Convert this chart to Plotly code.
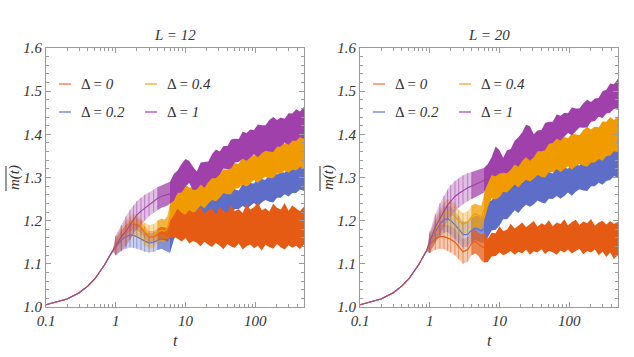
import math
import plotly.graph_objects as go

# ---------------- data ----------------
T_EARLY = [0.1, 0.2, 0.3, 0.4, 0.5, 0.6, 0.7, 0.8, 0.9]
M_EARLY = [1.005, 1.0185, 1.033, 1.049, 1.065, 1.082, 1.099, 1.116, 1.130]

T_MID = [1.0, 1.2, 1.4, 1.6, 1.8, 2.0, 2.3, 2.6, 3.0, 3.5, 4.0, 4.5, 5.0, 5.5, 6.0]
T_LATE = [6.8, 7.7, 8.8, 10, 11.3, 12.8, 14.5, 16.5, 18.7, 21.2, 24, 27.3, 31, 35, 40,
          45, 51, 58, 66, 75, 85, 96, 109, 124, 140, 159, 181, 205, 233, 264, 300,
          340, 386, 438, 500]

DELTA_LABELS = ["0", "0.2", "0.4", "1"]
PANEL_TITLES = ["12", "20"]
X_TICKS = [0.1, 1, 10, 100]
X_TICK_TEXT = ["0.1", "1", "10", "100"]
Y_TICKS = [1.0, 1.1, 1.2, 1.3, 1.4, 1.5, 1.6]
Y_TICK_TEXT = ["1.0", "1.1", "1.2", "1.3", "1.4", "1.5", "1.6"]

# ---- L = 12 ----
L12_D0_MEAN = [1.143, 1.162, 1.178, 1.188, 1.193, 1.192, 1.185, 1.173, 1.162, 1.162, 1.168, 1.172, 1.170, 1.165, 1.180]
L12_D0_LO = [1.131, 1.150, 1.165, 1.175, 1.180, 1.178, 1.171, 1.159, 1.148, 1.148, 1.154, 1.158, 1.155, 1.150, 1.160]
L12_D0_HI = [1.155, 1.175, 1.191, 1.201, 1.206, 1.206, 1.199, 1.187, 1.176, 1.176, 1.182, 1.186, 1.185, 1.182, 1.200]
L12_D0_LATE_LO = [1.163, 1.158, 1.152, 1.16, 1.147, 1.153, 1.149, 1.141, 1.151, 1.144, 1.139, 1.148, 1.142, 1.134, 1.146,
                  1.14, 1.137, 1.147, 1.133, 1.141, 1.145, 1.136, 1.142, 1.131, 1.144, 1.139, 1.135, 1.146, 1.138, 1.133,
                  1.143, 1.137, 1.142, 1.134, 1.145]
L12_D0_LATE_HI = [1.212, 1.228, 1.218, 1.214, 1.225, 1.219, 1.222, 1.231, 1.216, 1.224, 1.229, 1.214, 1.233, 1.221, 1.219,
                  1.236, 1.222, 1.227, 1.218, 1.238, 1.226, 1.231, 1.242, 1.224, 1.229, 1.221, 1.239, 1.23, 1.226, 1.241,
                  1.223, 1.235, 1.229, 1.222, 1.233]

L12_D02_MEAN = [1.140, 1.155, 1.163, 1.167, 1.166, 1.163, 1.158, 1.152, 1.148, 1.150, 1.155, 1.158, 1.156, 1.155, 1.160]
L12_D02_LO = [1.120, 1.130, 1.135, 1.138, 1.137, 1.135, 1.132, 1.128, 1.126, 1.128, 1.132, 1.135, 1.132, 1.128, 1.125]
L12_D02_HI = [1.160, 1.178, 1.190, 1.195, 1.195, 1.192, 1.185, 1.177, 1.170, 1.172, 1.178, 1.182, 1.180, 1.185, 1.190]
L12_D02_LATE_LO = [1.156, 1.174, 1.163, 1.177, 1.187, 1.177, 1.186, 1.197, 1.19, 1.201, 1.208, 1.204, 1.211, 1.221, 1.216,
                   1.215, 1.227, 1.227, 1.234, 1.228, 1.234, 1.241, 1.233, 1.242, 1.248, 1.244, 1.242, 1.253, 1.253, 1.261,
                   1.256, 1.264, 1.264, 1.272, 1.269]
L12_D02_LATE_HI = [1.231, 1.232, 1.232, 1.244, 1.236, 1.237, 1.237, 1.248, 1.245, 1.242, 1.254, 1.263, 1.256, 1.265, 1.262,
                   1.274, 1.273, 1.27, 1.285, 1.28, 1.287, 1.286, 1.298, 1.296, 1.295, 1.307, 1.314, 1.307, 1.313, 1.311,
                   1.324, 1.323, 1.334, 1.328, 1.339]

L12_D04_MEAN = [1.142, 1.163, 1.180, 1.190, 1.195, 1.195, 1.188, 1.176, 1.165, 1.166, 1.174, 1.178, 1.176, 1.182, 1.210]
L12_D04_LO = [1.120, 1.135, 1.148, 1.158, 1.163, 1.163, 1.155, 1.143, 1.135, 1.138, 1.148, 1.153, 1.150, 1.155, 1.180]
L12_D04_HI = [1.165, 1.185, 1.200, 1.210, 1.216, 1.214, 1.204, 1.195, 1.190, 1.192, 1.200, 1.205, 1.202, 1.210, 1.240]
L12_D04_LATE_LO = [1.196, 1.212, 1.199, 1.211, 1.221, 1.211, 1.224, 1.235, 1.228, 1.24, 1.248, 1.245, 1.253, 1.264, 1.261,
                   1.261, 1.274, 1.275, 1.284, 1.279, 1.286, 1.294, 1.287, 1.296, 1.302, 1.299, 1.298, 1.309, 1.309, 1.316,
                   1.311, 1.318, 1.317, 1.324, 1.321]
L12_D04_LATE_HI = [1.276, 1.281, 1.274, 1.284, 1.276, 1.279, 1.282, 1.294, 1.292, 1.291, 1.304, 1.314, 1.308, 1.319, 1.318,
                   1.332, 1.333, 1.332, 1.349, 1.345, 1.352, 1.351, 1.364, 1.362, 1.362, 1.374, 1.382, 1.376, 1.382, 1.379,
                   1.392, 1.39, 1.4, 1.393, 1.402]

L12_D1_MEAN = [1.143, 1.163, 1.176, 1.190, 1.203, 1.213, 1.222, 1.229, 1.236, 1.245, 1.252, 1.256, 1.258, 1.259, 1.262]
L12_D1_LO = [1.120, 1.130, 1.140, 1.155, 1.170, 1.180, 1.190, 1.200, 1.210, 1.218, 1.225, 1.230, 1.232, 1.235, 1.240]
L12_D1_HI = [1.165, 1.190, 1.210, 1.225, 1.235, 1.245, 1.253, 1.260, 1.265, 1.272, 1.278, 1.282, 1.285, 1.287, 1.290]
L12_D1_LATE_LO = [1.246, 1.264, 1.265, 1.279, 1.287, 1.271, 1.272, 1.284, 1.276, 1.289, 1.298, 1.298, 1.307, 1.321, 1.319,
                  1.321, 1.335, 1.336, 1.344, 1.339, 1.346, 1.354, 1.347, 1.356, 1.362, 1.36, 1.359, 1.371, 1.372, 1.381,
                  1.376, 1.385, 1.385, 1.393, 1.39]
L12_D1_LATE_HI = [1.308, 1.316, 1.332, 1.343, 1.338, 1.325, 1.314, 1.335, 1.336, 1.337, 1.354, 1.365, 1.36, 1.373, 1.373,
                  1.388, 1.39, 1.389, 1.406, 1.403, 1.411, 1.41, 1.423, 1.421, 1.421, 1.433, 1.44, 1.433, 1.439, 1.436,
                  1.449, 1.448, 1.458, 1.453, 1.464]

# ---- L = 20 ----
L20_D0_MEAN = [1.145, 1.158, 1.163, 1.163, 1.160, 1.157, 1.150, 1.140, 1.128, 1.133, 1.148, 1.152, 1.145, 1.140, 1.138]
L20_D0_LO = [1.125, 1.132, 1.135, 1.134, 1.130, 1.126, 1.120, 1.110, 1.100, 1.105, 1.120, 1.124, 1.118, 1.108, 1.103]
L20_D0_HI = [1.165, 1.183, 1.190, 1.192, 1.190, 1.187, 1.180, 1.170, 1.158, 1.162, 1.176, 1.180, 1.172, 1.168, 1.170]
L20_D0_LATE_LO = [1.104, 1.117, 1.118, 1.127, 1.12, 1.124, 1.13, 1.121, 1.128, 1.124, 1.133, 1.121, 1.129, 1.126, 1.134,
                  1.123, 1.13, 1.127, 1.121, 1.131, 1.126, 1.133, 1.124, 1.129, 1.135, 1.122, 1.13, 1.126, 1.133, 1.12,
                  1.128, 1.116, 1.126, 1.111, 1.121]
L20_D0_LATE_HI = [1.158, 1.172, 1.171, 1.187, 1.176, 1.179, 1.193, 1.182, 1.188, 1.196, 1.185, 1.192, 1.199, 1.186, 1.194,
                  1.19, 1.201, 1.187, 1.196, 1.192, 1.203, 1.189, 1.197, 1.202, 1.19, 1.198, 1.194, 1.204, 1.188, 1.196,
                  1.2, 1.191, 1.199, 1.193, 1.197]

L20_D02_MEAN = [1.147, 1.175, 1.192, 1.202, 1.205, 1.200, 1.190, 1.180, 1.168, 1.168, 1.178, 1.183, 1.180, 1.176, 1.182]
L20_D02_LO = [1.127, 1.150, 1.163, 1.172, 1.174, 1.168, 1.158, 1.148, 1.138, 1.140, 1.150, 1.155, 1.152, 1.148, 1.150]
L20_D02_HI = [1.168, 1.200, 1.220, 1.232, 1.236, 1.232, 1.222, 1.212, 1.198, 1.198, 1.206, 1.212, 1.210, 1.205, 1.215]
L20_D02_LATE_LO = [1.161, 1.177, 1.179, 1.189, 1.203, 1.203, 1.213, 1.224, 1.218, 1.229, 1.237, 1.232, 1.238, 1.247, 1.242,
                   1.24, 1.251, 1.25, 1.257, 1.251, 1.257, 1.265, 1.258, 1.267, 1.273, 1.27, 1.269, 1.28, 1.28, 1.288,
                   1.283, 1.292, 1.294, 1.303, 1.3]
L20_D02_LATE_HI = [1.246, 1.247, 1.26, 1.27, 1.268, 1.28, 1.281, 1.293, 1.291, 1.288, 1.3, 1.308, 1.3, 1.308, 1.304,
                   1.315, 1.313, 1.309, 1.323, 1.317, 1.323, 1.32, 1.332, 1.329, 1.328, 1.339, 1.346, 1.339, 1.345, 1.342,
                   1.356, 1.359, 1.372, 1.365, 1.374]

L20_D04_MEAN = [1.148, 1.180, 1.200, 1.215, 1.220, 1.218, 1.210, 1.200, 1.192, 1.197, 1.210, 1.216, 1.212, 1.208, 1.225]
L20_D04_LO = [1.125, 1.150, 1.170, 1.183, 1.188, 1.186, 1.178, 1.168, 1.162, 1.166, 1.180, 1.186, 1.182, 1.180, 1.200]
L20_D04_HI = [1.170, 1.205, 1.228, 1.243, 1.250, 1.248, 1.238, 1.226, 1.218, 1.222, 1.235, 1.240, 1.236, 1.235, 1.260]
L20_D04_LATE_LO = [1.231, 1.252, 1.249, 1.254, 1.267, 1.265, 1.274, 1.284, 1.277, 1.288, 1.295, 1.291, 1.297, 1.306, 1.301,
                   1.3, 1.312, 1.312, 1.319, 1.313, 1.319, 1.326, 1.318, 1.326, 1.331, 1.327, 1.325, 1.335, 1.335, 1.343,
                   1.339, 1.349, 1.351, 1.361, 1.36]
L20_D04_LATE_HI = [1.306, 1.312, 1.324, 1.326, 1.323, 1.337, 1.34, 1.353, 1.352, 1.351, 1.365, 1.373, 1.366, 1.374, 1.372,
                   1.384, 1.383, 1.38, 1.395, 1.389, 1.394, 1.391, 1.402, 1.399, 1.398, 1.41, 1.417, 1.411, 1.418, 1.416,
                   1.43, 1.429, 1.44, 1.433, 1.442]

L20_D1_MEAN = [1.150, 1.185, 1.205, 1.222, 1.236, 1.245, 1.256, 1.263, 1.270, 1.276, 1.280, 1.283, 1.287, 1.290, 1.294]
L20_D1_LO = [1.125, 1.150, 1.168, 1.185, 1.200, 1.210, 1.222, 1.230, 1.238, 1.245, 1.250, 1.254, 1.258, 1.262, 1.265]
L20_D1_HI = [1.175, 1.215, 1.240, 1.258, 1.272, 1.282, 1.292, 1.298, 1.305, 1.310, 1.313, 1.315, 1.318, 1.320, 1.322]
L20_D1_LATE_LO = [1.286, 1.305, 1.303, 1.309, 1.311, 1.31, 1.318, 1.33, 1.325, 1.339, 1.347, 1.339, 1.347, 1.361, 1.361,
                  1.363, 1.378, 1.38, 1.39, 1.386, 1.394, 1.403, 1.398, 1.408, 1.416, 1.415, 1.416, 1.429, 1.431, 1.441,
                  1.438, 1.448, 1.45, 1.459, 1.457]
L20_D1_LATE_HI = [1.331, 1.347, 1.372, 1.363, 1.346, 1.363, 1.366, 1.385, 1.393, 1.405, 1.422, 1.419, 1.4, 1.409, 1.41,
                  1.426, 1.429, 1.429, 1.446, 1.443, 1.45, 1.449, 1.462, 1.46, 1.46, 1.472, 1.48, 1.475, 1.483, 1.484,
                  1.5, 1.503, 1.518, 1.516, 1.529]

PANELS = [
    [  # L = 12
        (L12_D0_MEAN, L12_D0_LO, L12_D0_HI, L12_D0_LATE_LO, L12_D0_LATE_HI),
        (L12_D02_MEAN, L12_D02_LO, L12_D02_HI, L12_D02_LATE_LO, L12_D02_LATE_HI),
        (L12_D04_MEAN, L12_D04_LO, L12_D04_HI, L12_D04_LATE_LO, L12_D04_LATE_HI),
        (L12_D1_MEAN, L12_D1_LO, L12_D1_HI, L12_D1_LATE_LO, L12_D1_LATE_HI),
    ],
    [  # L = 20
        (L20_D0_MEAN, L20_D0_LO, L20_D0_HI, L20_D0_LATE_LO, L20_D0_LATE_HI),
        (L20_D02_MEAN, L20_D02_LO, L20_D02_HI, L20_D02_LATE_LO, L20_D02_LATE_HI),
        (L20_D04_MEAN, L20_D04_LO, L20_D04_HI, L20_D04_LATE_LO, L20_D04_LATE_HI),
        (L20_D1_MEAN, L20_D1_LO, L20_D1_HI, L20_D1_LATE_LO, L20_D1_LATE_HI),
    ],
]

# ---------------- styling ----------------
W, H = 634, 357
RGB = [(229, 91, 19), (94, 110, 200), (240, 155, 0), (160, 64, 170)]
LEGEND_RGB = [(240, 140, 95), (128, 142, 215), (245, 180, 60), (185, 100, 195)]
FRAME = "#9a9a9a"
TXT = "#333333"
SERIF = "Liberation Serif, DejaVu Serif, serif"


def rgba(c, a):
    return "rgba(%d,%d,%d,%g)" % (c[0], c[1], c[2], a)


def px(x):
    return x / W


def py(y):
    return 1 - y / H


X_DOMAINS = [[46 / W, 304 / W], [360 / W, 618 / W]]
Y_DOMAIN = [1 - 307 / H, 1 - 48 / H]

fig = go.Figure()


def band(xref, yref, ts, lo, hi, color):
    fig.add_trace(go.Scatter(
        x=list(ts) + list(ts)[::-1], y=list(hi) + list(lo)[::-1],
        fill="toself", fillcolor=color, mode="lines", line=dict(width=0),
        hoverinfo="skip", showlegend=False, xaxis=xref, yaxis=yref))


draw_order = [1, 2, 3, 0]
n_a = T_MID.index(4.0)
for p, series in enumerate(PANELS):
    xr = "x" if p == 0 else "x2"
    yr = "y" if p == 0 else "y2"
    for k in draw_order:
        mean, lo, hi, llo, lhi = series[k]
        c = RGB[k]
        band(xr, yr, T_EARLY[-2:] + T_MID[:n_a + 1],
             M_EARLY[-2:] + lo[:n_a + 1], M_EARLY[-2:] + hi[:n_a + 1], rgba(c, 0.33))
        band(xr, yr, T_MID[n_a:], lo[n_a:], hi[n_a:], rgba(c, 0.75))
        band(xr, yr, T_MID[-1:] + T_LATE, lo[-1:] + llo, hi[-1:] + lhi, rgba(c, 1.0))
    for k in [0, 1, 2, 3]:
        mean, lo, hi, llo, lhi = series[k]
        c = RGB[k]
        up = [0] * len(T_EARLY) + [h - m if t <= 4.0 else 0 for t, h, m in zip(T_MID, hi, mean)]
        dn = [0] * len(T_EARLY) + [m - l if t <= 4.0 else 0 for t, l, m in zip(T_MID, lo, mean)]
        fig.add_trace(go.Scatter(
            x=T_EARLY + T_MID, y=M_EARLY + mean, mode="lines",
            line=dict(color=rgba(c, 1.0), width=1.1),
            error_y=dict(type="data", symmetric=False, array=up, arrayminus=dn,
                         thickness=1, width=0, color=rgba(c, 0.55)),
            showlegend=False, hoverinfo="skip", xaxis=xr, yaxis=yr))

axis_common = dict(showline=True, linecolor=FRAME, linewidth=1, mirror="ticks",
                   ticks="inside", ticklen=5, tickcolor=FRAME, tickwidth=1,
                   showgrid=False, zeroline=False, automargin=False,
                   tickfont=dict(family=SERIF, size=15, color=TXT, style="italic"))
minor_x = [0.2, 0.3, 0.4, 0.5, 0.6, 0.7, 0.8, 0.9, 2, 3, 4, 5, 6, 7, 8, 9,
           20, 30, 40, 50, 60, 70, 80, 90, 200, 300, 400, 500]
minor_y = [1.0 + 0.02 * i for i in range(31)]
for p in range(2):
    sx = "" if p == 0 else "2"
    fig.update_layout(**{
        "xaxis" + sx: dict(axis_common, type="log", range=[-1, math.log10(500)],
                           domain=X_DOMAINS[p], anchor="y" + sx,
                           tickvals=X_TICKS, ticktext=X_TICK_TEXT,
                           minor=dict(ticks="inside", ticklen=3, tickcolor=FRAME, tickvals=minor_x)),
        "yaxis" + sx: dict(axis_common, range=[1.0, 1.6], domain=Y_DOMAIN, anchor="x" + sx,
                           tickvals=Y_TICKS, ticktext=Y_TICK_TEXT,
                           minor=dict(ticks="inside", ticklen=3, tickcolor=FRAME, tickvals=minor_y)),
    })

annotations = []
shapes = []
for p in range(2):
    off = 0 if p == 0 else 314
    # panel title
    annotations.append(dict(x=px(175 + off), y=py(35), xref="paper", yref="paper",
                            xanchor="center", yanchor="middle",
                            text="L = " + PANEL_TITLES[p], showarrow=False,
                            font=dict(family=SERIF, size=15, color=TXT, style="italic")))
    # x axis title
    annotations.append(dict(x=px(175 + off), y=py(340), xref="paper", yref="paper",
                            xanchor="center", yanchor="middle",
                            text="t", showarrow=False,
                            font=dict(family=SERIF, size=16, color=TXT, style="italic")))
    # y axis title with overline
    annotations.append(dict(x=px(14 + off), y=py(178), xref="paper", yref="paper",
                            xanchor="center", yanchor="middle",
                            text="m(t)", textangle=-90, showarrow=False,
                            font=dict(family=SERIF, size=15, color=TXT, style="italic")))
    shapes.append(dict(type="line", xref="paper", yref="paper",
                       x0=px(6 + off), x1=px(6 + off), y0=py(166), y1=py(191),
                       line=dict(color=TXT, width=1)))
    # legend
    pos = [(59, 84), (59, 112), (145, 84), (145, 112)]
    for k in range(4):
        lx, ly = pos[k]
        shapes.append(dict(type="line", xref="paper", yref="paper",
                           x0=px(lx + off), x1=px(lx + 12 + off), y0=py(ly), y1=py(ly),
                           line=dict(color=rgba(LEGEND_RGB[k], 1.0), width=1.5)))
        annotations.append(dict(x=px(lx + 20 + off), y=py(ly), xref="paper", yref="paper",
                                xanchor="left", yanchor="middle",
                                text="Δ = <i>" + DELTA_LABELS[k] + "</i>", showarrow=False,
                                font=dict(family=SERIF, size=15, color=TXT)))

fig.update_layout(template="none", width=W, height=H, margin=dict(l=0, r=0, t=0, b=0, pad=0),
                  paper_bgcolor="white", plot_bgcolor="white",
                  annotations=annotations, shapes=shapes, showlegend=False)

fig.write_html("out.html", config={"displayModeBar": False},
               post_script="document.body.style.margin='0px';")
